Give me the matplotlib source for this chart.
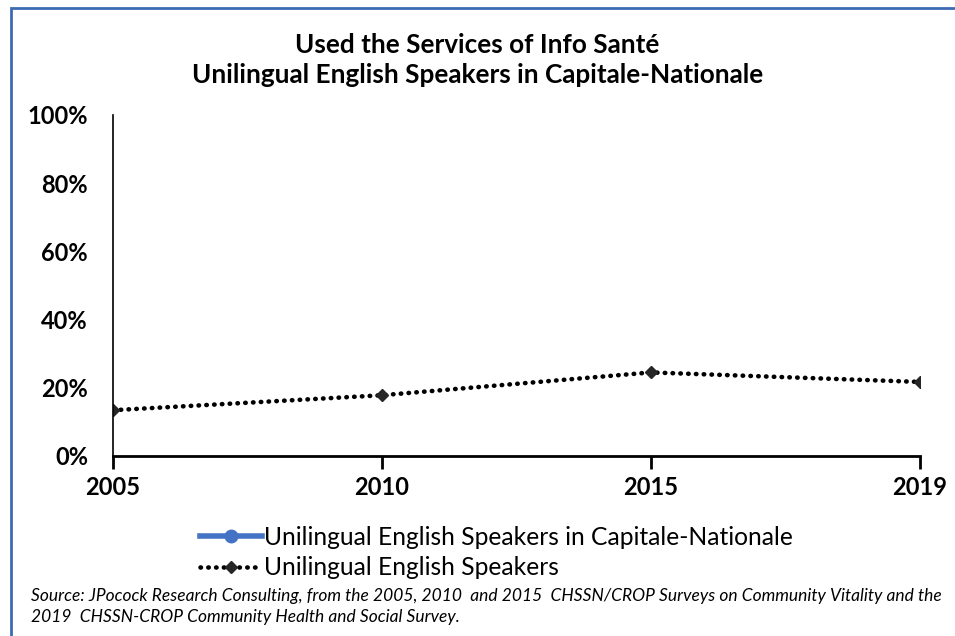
import matplotlib
matplotlib.use("Agg")
import matplotlib.pyplot as plt
import numpy as np
from matplotlib.lines import Line2D
from matplotlib.patches import Rectangle

years = ["2005", "2010", "2015", "2019"]
capitale_pct = [np.nan, np.nan, np.nan, np.nan]   # no points drawn in the source chart
unilingual_pct = [13.3, 17.7, 24.4, 21.6]
y_ticks = [0, 20, 40, 60, 80, 100]

TITLE = "Used the Services of Info Santé\nUnilingual English Speakers in Capitale-Nationale"
SOURCE = ("Source: JPocock Research Consulting, from the 2005, 2010  and 2015  CHSSN/CROP Surveys on Community Vitality and the\n"
          "2019  CHSSN-CROP Community Health and Social Survey.")

plt.rcParams["font.family"] = ["Lato", "DejaVu Sans"]

BLUE = "#4472C4"
DOTS = dict(color="black", linewidth=3.3, linestyle=(0, (0.1, 1.6)), dash_capstyle="round",
            marker="D", markersize=6.5, markerfacecolor="#262626", markeredgecolor="#262626")

fig = plt.figure(figsize=(9.55, 6.36), dpi=100)
ax = fig.add_axes([0.1183, 0.2838, 0.9634 - 0.1183, 0.8192 - 0.2838])

x = np.arange(len(years))
ax.plot(x, capitale_pct, color=BLUE, linewidth=4, marker="o", markersize=9,
        label="Unilingual English Speakers in Capitale-Nationale")
ax.plot(x, unilingual_pct, label="Unilingual English Speakers", **DOTS)

ax.set_xlim(0, len(years) - 1)
ax.set_ylim(0, 100)
ax.set_xticks(x)
ax.set_xticklabels(years)
ax.set_yticks(y_ticks)
ax.set_yticklabels([f"{v}%" for v in y_ticks])
for side in ("top", "right"):
    ax.spines[side].set_visible(False)
ax.spines["left"].set_linewidth(1.2)
ax.spines["bottom"].set_linewidth(2)
ax.tick_params(axis="y", length=0, pad=18, labelsize=17)
ax.tick_params(axis="x", length=9, width=2, direction="out", pad=6, labelsize=17)
for lbl in ax.get_xticklabels() + ax.get_yticklabels():
    lbl.set_fontweight("bold")

fig.text(0.5, 0.905, TITLE, ha="center", va="center", fontsize=18.8, fontweight="bold",
         linespacing=1.3)

handles = [
    Line2D([], [], color=BLUE, linewidth=4, marker="o", markersize=9),
    Line2D([], [], **DOTS),
]
fig.legend(handles, ["Unilingual English Speakers in Capitale-Nationale", "Unilingual English Speakers"],
           loc="center left", bbox_to_anchor=(0.197, 0.131), frameon=False, fontsize=17.7,
           handlelength=2.5, handletextpad=0.1, labelspacing=0.3, borderpad=0)

fig.text(0.032, 0.046, SOURCE, ha="left", va="center", fontsize=12.5, style="italic",
         linespacing=1.35)

# frame of the slide the chart sits on (only top and left edges are in view)
fig.add_artist(Rectangle((11 / 955, -0.1), 1.2, (636 - 8) / 636 + 0.1, transform=fig.transFigure,
                         fill=False, edgecolor="#3D6BB3", linewidth=2))

fig.savefig("out.png", dpi=100)
